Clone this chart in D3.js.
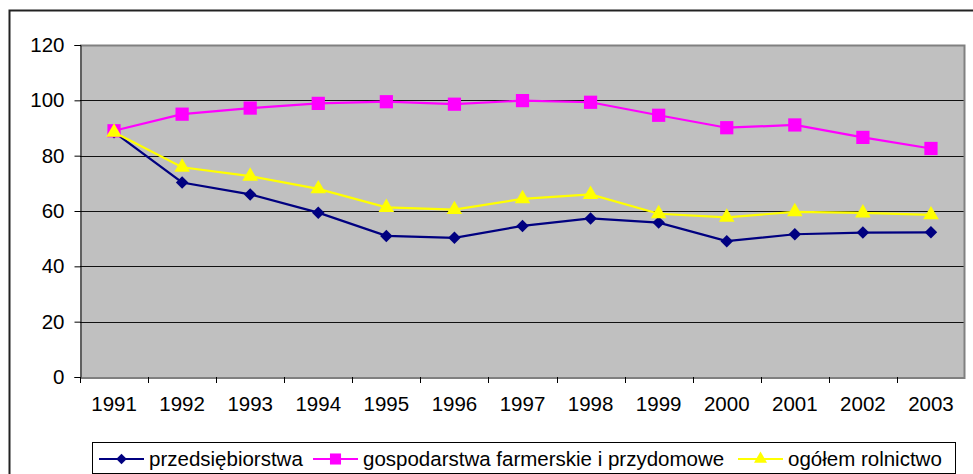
<!DOCTYPE html>
<html>
<head>
<meta charset="utf-8">
<script src="https://cdn.jsdelivr.net/npm/d3@7"></script>
<style>
  html, body { margin: 0; padding: 0; background: #fff; }
  svg { display: block; font-family: "Liberation Sans", Arial, sans-serif; }
</style>
</head>
<body>
<div id="chart"></div>
<script>
// data
const years = ['1991', '1992', '1993', '1994', '1995', '1996', '1997',
  '1998', '1999', '2000', '2001', '2002', '2003'];
const przedsiebiorstwa = [88.5, 70.3, 66.0, 59.4, 51.0, 50.3, 54.6, 57.3, 55.8, 49.1, 51.6, 52.2, 52.3];
const gospodarstwa = [89.0, 95.0, 97.2, 98.9, 99.5, 98.6, 99.9, 99.3, 94.6, 90.1, 91.1, 86.6, 82.6];
const ogolem = [88.5, 75.8, 72.6, 68.0, 61.3, 60.5, 64.4, 66.0, 59.0, 57.7, 59.7, 59.3, 58.6];
const yTicks = [0, 20, 40, 60, 80, 100, 120];

// excel style diamond: a square turned by 45 degrees
const diamond = {
  draw(ctx, size) {
    const r = Math.sqrt(size / 2);
    ctx.moveTo(0, -r);
    ctx.lineTo(r, 0);
    ctx.lineTo(0, r);
    ctx.lineTo(-r, 0);
    ctx.closePath();
  }
};

const series = [
  {name: 'przedsiębiorstwa', values: przedsiebiorstwa, color: '#000080', symbol: diamond, size: 78},
  {name: 'gospodarstwa farmerskie i przydomowe', values: gospodarstwa, color: '#ff00ff', symbol: d3.symbolSquare, size: 175},
  {name: 'ogółem rolnictwo', values: ogolem, color: '#ffff00', symbol: d3.symbolTriangle, size: 105}
];

const width = 973;
const height = 474;
const fontSize = 20.5;
const plot = {left: 80, top: 45, right: 965, bottom: 377};

const svg = d3.select('#chart').append('svg')
    .attr('width', width)
    .attr('height', height);

// outer chart frame (runs off the right and bottom edges)
svg.append('rect')
    .attr('x', 9.5).attr('y', 10.5)
    .attr('width', 1000).attr('height', 500)
    .attr('fill', '#fff')
    .attr('stroke', '#222')
    .attr('stroke-width', 2);

const x = d3.scaleBand()
    .domain(years)
    .range([plot.left, plot.right])
    .padding(0);
const y = d3.scaleLinear()
    .domain([0, 120])
    .range([plot.bottom, plot.top]);
const cx = (i) => x(years[i]) + x.bandwidth() / 2;

// plot background
svg.append('rect')
    .attr('x', plot.left).attr('y', plot.top)
    .attr('width', plot.right - plot.left)
    .attr('height', plot.bottom - plot.top)
    .attr('fill', '#c0c0c0');

// gridlines
svg.append('g')
    .selectAll('line')
    .data(yTicks.filter((t) => t > 0 && t < 120))
    .join('line')
    .attr('x1', plot.left).attr('x2', plot.right)
    .attr('y1', (d) => Math.round(y(d)) + 0.5)
    .attr('y2', (d) => Math.round(y(d)) + 0.5)
    .attr('stroke', '#111')
    .attr('stroke-width', 1);

// plot border top/right in gray
svg.append('path')
    .attr('d', `M${plot.left},${plot.top + 0.5}H${plot.right - 0.5}V${plot.bottom}`)
    .attr('fill', 'none')
    .attr('stroke', '#808080')
    .attr('stroke-width', 2);

// y axis
const yAxis = svg.append('g')
    .attr('transform', `translate(${plot.left + 0.5},0)`)
    .call(d3.axisLeft(y).tickValues(yTicks).tickSize(6).tickPadding(10));
yAxis.select('.domain').attr('stroke', '#000');
yAxis.selectAll('.tick line').attr('stroke', '#000');
yAxis.selectAll('text')
    .attr('font-size', fontSize)
    .attr('font-family', '"Liberation Sans", Arial, sans-serif')
    .attr('fill', '#000');

// x axis labels
const xAxis = svg.append('g')
    .attr('transform', `translate(0,${plot.bottom + 0.5})`)
    .call(d3.axisBottom(x).tickSize(0).tickPadding(19));
xAxis.select('.domain').attr('stroke', '#000');
xAxis.selectAll('text')
    .attr('font-size', fontSize)
    .attr('font-family', '"Liberation Sans", Arial, sans-serif')
    .attr('fill', '#000');

// x ticks on category boundaries
svg.append('g')
    .selectAll('line')
    .data(years)
    .join('line')
    .attr('x1', (d) => Math.round(x(d)) + 0.5)
    .attr('x2', (d) => Math.round(x(d)) + 0.5)
    .attr('y1', plot.bottom)
    .attr('y2', plot.bottom + 6)
    .attr('stroke', '#000');

// lines and markers
const line = d3.line()
    .x((d, i) => cx(i))
    .y((d) => y(d));

series.forEach((s) => {
  svg.append('path')
      .datum(s.values)
      .attr('d', line)
      .attr('fill', 'none')
      .attr('stroke', s.color)
      .attr('stroke-width', 2.2);
});
series.forEach((s) => {
  svg.append('g')
      .selectAll('path')
      .data(s.values)
      .join('path')
      .attr('transform', (d, i) => `translate(${cx(i)},${y(d)})`)
      .attr('d', d3.symbol().type(s.symbol).size(s.size))
      .attr('fill', s.color);
});

// legend
const legend = svg.append('g');
legend.append('rect')
    .attr('x', 92.5).attr('y', 442.5)
    .attr('width', 863).attr('height', 31)
    .attr('fill', '#fff')
    .attr('stroke', '#000')
    .attr('stroke-width', 1);

const legendX = [99, 313, 738];
series.forEach((s, i) => {
  const g = legend.append('g')
      .attr('transform', `translate(${legendX[i]},459)`);
  g.append('line')
      .attr('x1', 0).attr('x2', 45)
      .attr('stroke', s.color)
      .attr('stroke-width', 2.2);
  g.append('path')
      .attr('transform', 'translate(22.5,0)')
      .attr('d', d3.symbol().type(s.symbol).size(s.size * 0.7))
      .attr('fill', s.color);
  g.append('text')
      .attr('x', 50)
      .attr('dy', '0.35em')
      .attr('font-size', fontSize)
      .attr('fill', '#000')
      .text(s.name);
});
</script>
</body>
</html>
